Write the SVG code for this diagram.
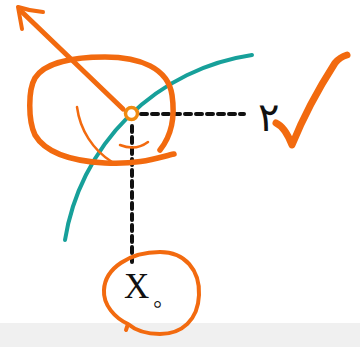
<svg xmlns="http://www.w3.org/2000/svg" width="360" height="347" viewBox="0 0 360 347">
<style>
.dash{fill:none;stroke:#111;stroke-width:4;stroke-dasharray:6 5;stroke-linecap:round}
.ink{fill:none;stroke:#f26a0f;stroke-linecap:round;stroke-linejoin:round}
.lbl{font-family:"Liberation Serif","DejaVu Serif",serif;fill:#111}
</style>
<rect x="0" y="0" width="360" height="347" fill="#ffffff"/>
<rect x="0" y="323" width="360" height="24" fill="#f0f0f0"/>
<g id="curve">
<path d="M65,240 A222,222 0 0 1 252,55" fill="none" stroke="#17a09a" stroke-width="4" stroke-linecap="round"/>
</g>
<g id="connectors">
<line class="dash" x1="141" y1="114" x2="244" y2="114"/>
<line class="dash" x1="132" y1="126" x2="132" y2="262"/>
</g>
<g id="point">
<circle cx="131.5" cy="113.5" r="6" fill="#fff" stroke="#f08a10" stroke-width="3.5"/>
</g>
<g id="label-2">
<text class="lbl" x="268" y="131" font-size="40" text-anchor="middle" font-family="'DejaVu Sans','Noto Sans',sans-serif">۲</text>
</g>
<g id="label-x0">
<text class="lbl" x="124" y="298" font-size="35">X</text>
<text class="lbl" x="157.5" y="313" font-size="28" font-weight="bold" text-anchor="middle" font-family="'DejaVu Sans','Noto Sans',sans-serif">◦</text>
</g>
<g id="annotations">
<path class="ink" stroke-width="5" d="M123,109 L22,12"/>
<path class="ink" stroke-width="4" d="M43,12 Q30,11 18,7 Q20,18 22,29" fill="#f26a0f"/>
<path class="ink" stroke-width="5.5" d="M174,154 C160,157 140,165 105,163 C70,161 45,152 35,135 C28,120 28,90 35,78 C45,62 75,57 105,57 C140,57 168,68 172,95 C175,115 172,135 160,150"/>
<path class="ink" stroke-width="2.5" d="M77,107 C80,130 93,150 112,162"/>
<path class="ink" stroke-width="2.5" d="M120,145 C130,149 140,148 148,142"/>
<path class="ink" stroke-width="7" d="M276,123 Q285,127 292,145 Q308,105 335,63 Q340,57 347,55"/>
<path class="ink" stroke-width="4" d="M128,324 C115,318 103,305 104,290 C105,268 130,252 160,252 C185,252 200,270 199,295 C198,320 182,334 160,334 C145,334 135,330 128,324 L126,330"/>
</g>
</svg>
